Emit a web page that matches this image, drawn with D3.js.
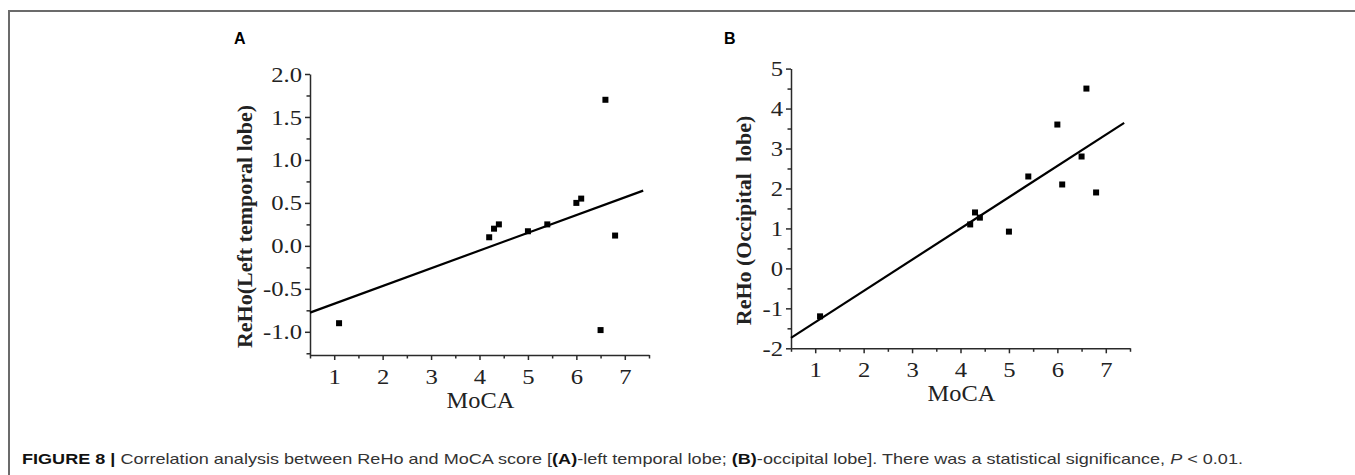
<!DOCTYPE html>
<html lang="en">
<head>
    <meta charset="UTF-8">
    <title>ReHo vs MoCA</title>
    <script src="https://d3js.org/d3.v7.min.js"></script>
    <style>
        html, body {
            margin: 0;
            padding: 0;
            background: #fff;
        }
        svg text {
            white-space: pre;
        }
        .tick text {
            font-family: "Liberation Serif", "Times New Roman", serif;
            font-size: 22px;
            fill: #222;
        }
        .axis path, .axis line {
            stroke: #2a2a2a;
            stroke-width: 1.5;
        }
    </style>
</head>
<body>
    <div id="chart"></div>
    <script>
        // values
        const moca = [1.1, 4.2, 4.3, 4.4, 5.0, 5.4, 6.0, 6.1, 6.6, 6.5, 6.8];
        const rehoTemporal = [-0.9, 0.1, 0.2, 0.25, 0.17, 0.25, 0.5, 0.55, 1.7, -0.98, 0.12];
        const rehoOccipital = [-1.2, 1.1, 1.4, 1.27, 0.92, 2.3, 3.6, 2.1, 4.5, 2.8, 1.9];

        const xTicks = [1, 2, 3, 4, 5, 6, 7];
        const xMinor = [0.5, 1.5, 2.5, 3.5, 4.5, 5.5, 6.5, 7.5];
        const temporalTicks = [-1.0, -0.5, 0.0, 0.5, 1.0, 1.5, 2.0];
        const temporalMinor = [-1.25, -0.75, -0.25, 0.25, 0.75, 1.25, 1.75];
        const occipitalTicks = [-2, -1, 0, 1, 2, 3, 4, 5];
        const occipitalMinor = [-1.5, -0.5, 0.5, 1.5, 2.5, 3.5, 4.5];
        const fitRange = [0.5, 7.38];

        const width = 1355;
        const height = 475;
        const serif = '"Liberation Serif", "Times New Roman", serif';

        const svg = d3.select('#chart').append('svg')
            .attr('width', width)
            .attr('height', height);

        // outer frame (top and left edges)
        svg.append('path')
            .attr('d', `M9,${height} L9,11 L${width},11`)
            .attr('fill', 'none')
            .attr('stroke', '#6b6b6b')
            .attr('stroke-width', 2);

        const panels = [
            {
                letter: 'A', letterX: 234,
                left: 310, right: 649, top: 74, bottom: 355,
                yDomain: [-1.27, 2.0], ys: rehoTemporal,
                ticks: temporalTicks, minor: temporalMinor,
                fmt: d => d.toFixed(1),
                yLabel: 'ReHo(Left temporal lobe)', yLabelX: 244
            },
            {
                letter: 'B', letterX: 724,
                left: 791, right: 1130, top: 68.6, bottom: 348.3,
                yDomain: [-2, 5], ys: rehoOccipital,
                ticks: occipitalTicks, minor: occipitalMinor,
                fmt: d => String(d),
                yLabel: 'ReHo (Occipital  lobe)', yLabelX: 743
            }
        ];

        function fit(xs, ys) {
            const mx = d3.mean(xs), my = d3.mean(ys);
            let sxy = 0, sxx = 0;
            xs.forEach((x, i) => {
                sxy += (x - mx) * (ys[i] - my);
                sxx += (x - mx) * (x - mx);
            });
            const slope = sxy / sxx;
            return x => my + slope * (x - mx);
        }

        // the scanned figure is a bit wider than the fonts here
        function widen(sel, k) {
            sel.each(function() {
                const len = this.getComputedTextLength();
                d3.select(this)
                    .attr('textLength', len * k)
                    .attr('lengthAdjust', 'spacingAndGlyphs');
            });
        }

        panels.forEach(p => {
            const x = d3.scaleLinear().domain([0.5, 7.5]).range([p.left, p.right]);
            const y = d3.scaleLinear().domain(p.yDomain).range([p.bottom, p.top]);
            const g = svg.append('g');

            // minor ticks
            g.append('g').attr('class', 'axis')
                .attr('transform', `translate(0,${p.bottom})`)
                .call(d3.axisBottom(x).tickValues(xMinor).tickSize(3.5).tickFormat(''))
                .select('.domain').remove();
            g.append('g').attr('class', 'axis')
                .attr('transform', `translate(${p.left},0)`)
                .call(d3.axisLeft(y).tickValues(p.minor).tickSize(3.5).tickFormat(''))
                .select('.domain').remove();

            // major axes
            const xa = g.append('g').attr('class', 'axis')
                .attr('transform', `translate(0,${p.bottom})`)
                .call(d3.axisBottom(x).tickValues(xTicks).tickSize(5).tickSizeOuter(0)
                    .tickPadding(5).tickFormat(d3.format('d')));
            xa.selectAll('.tick text').attr('dy', '0.85em').call(widen, 1.12);

            const ya = g.append('g').attr('class', 'axis')
                .attr('transform', `translate(${p.left},0)`)
                .call(d3.axisLeft(y).tickValues(p.ticks).tickSize(5).tickSizeOuter(0)
                    .tickPadding(3).tickFormat(p.fmt));
            ya.selectAll('.tick text').call(widen, 1.12);

            // regression line
            const f = fit(moca, p.ys);
            g.append('line')
                .attr('x1', x(fitRange[0])).attr('y1', y(f(fitRange[0])))
                .attr('x2', x(fitRange[1])).attr('y2', y(f(fitRange[1])))
                .attr('stroke', '#000')
                .attr('stroke-width', 2.2);

            // points
            g.selectAll('rect.pt')
                .data(moca.map((m, i) => [m, p.ys[i]]))
                .enter()
                .append('rect')
                .attr('class', 'pt')
                .attr('x', d => x(d[0]) - 3)
                .attr('y', d => y(d[1]) - 3)
                .attr('width', 6)
                .attr('height', 6)
                .attr('fill', '#000');

            // labels
            g.append('text')
                .attr('x', (p.left + p.right) / 2 + 1)
                .attr('y', p.bottom + 53)
                .attr('text-anchor', 'middle')
                .attr('font-family', serif)
                .attr('font-size', 23)
                .attr('fill', '#222')
                .text('MoCA')
                .call(widen, 1.06);

            g.append('text')
                .attr('transform', `translate(${p.yLabelX},${(p.top + p.bottom) / 2 + 12}) rotate(-90)`)
                .attr('text-anchor', 'middle')
                .attr('dominant-baseline', 'central')
                .attr('font-family', serif)
                .attr('font-size', 22)
                .attr('font-weight', 'bold')
                .attr('fill', '#222')
                .text(p.yLabel);

            g.append('text')
                .attr('x', p.letterX)
                .attr('y', 44)
                .attr('font-family', '"Liberation Sans", Arial, sans-serif')
                .attr('font-size', 16)
                .attr('font-weight', 'bold')
                .attr('fill', '#000')
                .text(p.letter);
        });

        // caption
        const cap = svg.append('text')
            .attr('x', 22)
            .attr('y', 464)
            .attr('font-family', '"Liberation Sans", Arial, sans-serif')
            .attr('font-size', 15)
            .attr('fill', '#333')
            .attr('textLength', 1221)
            .attr('lengthAdjust', 'spacingAndGlyphs');
        cap.append('tspan').attr('font-weight', 'bold').attr('fill', '#111').text('FIGURE 8 | ');
        cap.append('tspan').text('Correlation analysis between ReHo and MoCA score [');
        cap.append('tspan').attr('font-weight', 'bold').attr('fill', '#111').text('(A)');
        cap.append('tspan').text('-left temporal lobe; ');
        cap.append('tspan').attr('font-weight', 'bold').attr('fill', '#111').text('(B)');
        cap.append('tspan').text('-occipital lobe]. There was a statistical significance, ');
        cap.append('tspan').attr('font-style', 'italic').text('P');
        cap.append('tspan').text(' < 0.01.');
    </script>
</body>
</html>
